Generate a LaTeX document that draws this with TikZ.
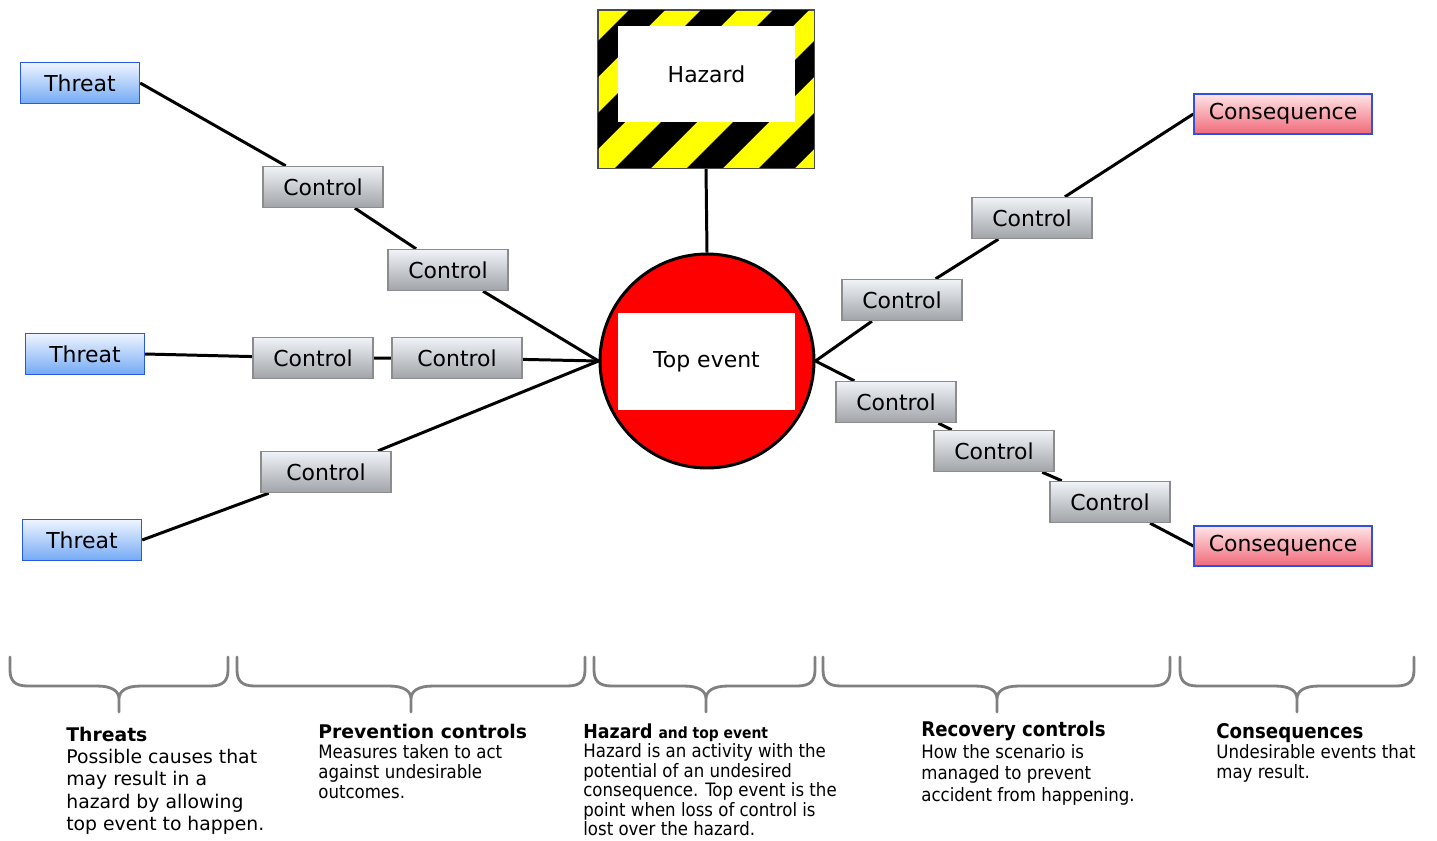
\documentclass[tikz,border=0pt]{standalone}
\usepackage{fontspec}
\setmainfont{DejaVu Sans}
\newfontfamily\condfont{DejaVu Sans Condensed}
\usetikzlibrary{positioning}
\usetikzlibrary{backgrounds}

\definecolor{threatedge}{RGB}{40,90,225}
\definecolor{threattop}{RGB}{238,245,255}
\definecolor{threatbot}{RGB}{115,170,245}
\definecolor{ctrledge}{RGB}{140,140,140}
\definecolor{ctrltop}{RGB}{240,244,249}
\definecolor{ctrlbot}{RGB}{160,163,168}
\definecolor{consedge}{RGB}{50,80,220}
\definecolor{constop}{RGB}{255,228,232}
\definecolor{consbot}{RGB}{240,105,120}
\definecolor{braceg}{RGB}{128,128,128}
\definecolor{hazyellow}{RGB}{255,255,0}

\tikzset{
  boxlabel/.style={font=\fontsize{12.5}{15}\selectfont, inner sep=0pt, minimum height=0.82cm, line width=0.8pt},
  threatbox/.style={boxlabel, draw=threatedge, top color=threattop, bottom color=threatbot, minimum width=2.38cm},
  ctrlbox/.style={boxlabel, draw=ctrledge, top color=ctrltop, bottom color=ctrlbot, minimum width=2.4cm},
  widectrl/.style={ctrlbox, minimum width=2.6cm},
  consbox/.style={boxlabel, draw=consedge, top color=constop, bottom color=consbot, minimum width=3.56cm, minimum height=0.8cm},
  whitebox/.style={fill=white, inner sep=0pt, font=\fontsize{12.5}{15}\selectfont},
  link/.style={line width=1.7pt},
  capbrace/.style={draw=braceg, line width=1.6pt, line cap=round, line join=round},
  captext/.style={anchor=north west, inner sep=0pt, align=left},
}

\begin{document}
\begin{tikzpicture}[x=0.02cm, y=-0.02cm]
\useasboundingbox (0,0) rectangle (1437,840);

% threats
\node[threatbox] (threatA) at (80,83) {Threat};
\node[threatbox] (threatB) at (85,354) {Threat};
\node[threatbox] (threatC) at (82,540) {Threat};

% prevention controls
\node[ctrlbox] (ctrlA) at (323,187) {Control};
\node[ctrlbox] (ctrlB) at (448,270) {Control};
\node[ctrlbox] (ctrlC) at (313,358) {Control};
\node[widectrl] (ctrlD) at (457,358) {Control};
\node[widectrl] (ctrlE) at (326,472) {Control};

% top event
\node[circle, draw, fill=red, line width=1.7pt, minimum size=4.28cm, inner sep=0pt] (topEvent) at (707,361) {};
\node[whitebox, minimum width=3.54cm, minimum height=1.94cm] (topLabel) at (706.5,361.5) {Top event};

% hazard sign
\node[draw=black!70, fill=hazyellow, minimum width=4.32cm, minimum height=3.16cm, inner sep=0pt] (hazard) at (706,89) {};
\begin{scope}
  \clip (hazard.south west) rectangle (hazard.north east);
  \foreach \i in {0,...,6}
    \fill[black] (397+72*\i,170) -- (433+72*\i,170) -- (593+72*\i,10) -- (557+72*\i,10) -- cycle;
\end{scope}
\draw[black!70] (hazard.south west) rectangle (hazard.north east);
\node[whitebox, minimum width=3.54cm, minimum height=1.92cm] (hazardLabel) at (706.5,74) {Hazard};

% recovery controls
\node[ctrlbox] (ctrlF) at (1032,218) {Control};
\node[ctrlbox] (ctrlG) at (902,300) {Control};
\node[ctrlbox] (ctrlH) at (896,402) {Control};
\node[ctrlbox] (ctrlI) at (994,451) {Control};
\node[ctrlbox] (ctrlJ) at (1110,502) {Control};

% consequences
\node[consbox] (consA) at (1283,114) {Consequence};
\node[consbox] (consB) at (1283,546) {Consequence};

% connectors
\begin{scope}[on background layer]
  \draw[link] (threatA.east) -- (ctrlA) -- (ctrlB) -- (topEvent.west);
  \draw[link] (threatB.east) -- (ctrlC) -- (ctrlD) -- (topEvent.west);
  \draw[link] (threatC.east) -- (ctrlE) -- (topEvent.west);
  \draw[link] (topEvent.east) -- (ctrlG) -- (ctrlF) -- (consA.west);
  \draw[link] (topEvent.east) -- (ctrlH) -- (ctrlI) -- (ctrlJ) -- (consB.west);
  \draw[link] (hazard.south) -- (topEvent.north);
\end{scope}

% braces
\foreach \a/\m/\b in {10/119/228, 237/411/585, 594/706/815, 823/997/1170, 1180/1297/1414}
  \draw[capbrace] (\a,657) -- (\a,670) .. controls (\a,681) and (\a+5,686) .. (\a+18,686) -- (\m-22,686)
    .. controls (\m-7,686) and (\m,691) .. (\m,699) -- (\m,712)
    (\m,699) .. controls (\m,691) and (\m+7,686) .. (\m+22,686) -- (\b-18,686)
    .. controls (\b-5,686) and (\b,681) .. (\b,670) -- (\b,657);

% captions
\node[captext, font=\fontsize{10.7}{12.6}\selectfont] (threatsCap) at (66,727)
  {\textbf{Threats}\\Possible causes that\\may result in a\\hazard by allowing\\top event to happen.};
\node[captext, font=\condfont\fontsize{10.5}{11.3}\selectfont] (preventCap) at (318,724)
  {{\normalfont\bfseries\fontsize{10.7}{12}\selectfont Prevention controls}\\Measures taken to act\\against undesirable\\outcomes.};
\node[captext, font=\condfont\fontsize{10.5}{11.1}\selectfont] (hazardCap) at (583,723)
  {{\bfseries\fontsize{11}{12}\selectfont Hazard \fontsize{8.8}{12}\selectfont and top event}\\Hazard is an activity with the\\potential of an undesired\\consequence. Top event is the\\point when loss of control is\\lost over the hazard.};
\node[captext, font=\condfont\fontsize{10.5}{12.2}\selectfont] (recoveryCap) at (921,721)
  {{\bfseries\fontsize{11.5}{12}\selectfont Recovery controls}\\How the scenario is\\managed to prevent\\accident from happening.};
\node[captext, font=\condfont\fontsize{10.5}{11.3}\selectfont] (consCap) at (1216,723)
  {{\bfseries\fontsize{11.5}{12}\selectfont Consequences}\\Undesirable events that\\may result.};

\end{tikzpicture}
\end{document}
